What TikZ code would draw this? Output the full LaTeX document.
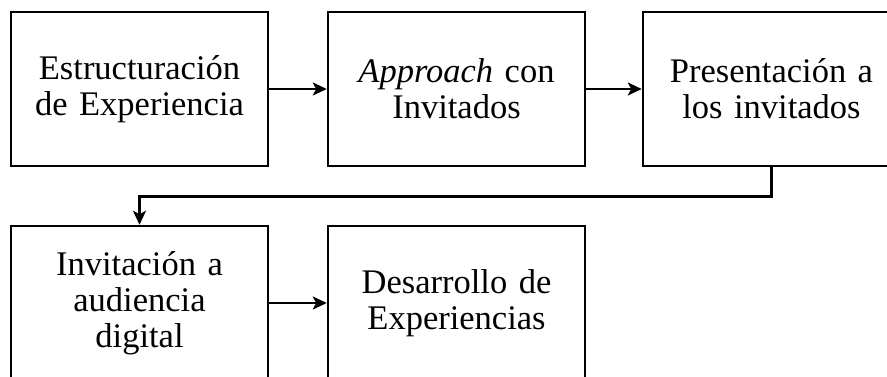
\documentclass[tikz,border=0pt]{standalone}
\usepackage{fontspec}
\setmainfont{Liberation Serif}
\usetikzlibrary{arrows.meta}
\tikzset{
  stepbox/.style={draw=black, line width=2.5pt, minimum width=257pt, minimum height=154pt,
    text width=250pt, align=center, inner sep=0pt, font=\fontsize{34.5}{36}\selectfont},
  arr/.style={draw=black, line width=2.2pt, -{Stealth[length=14pt,width=13pt,inset=3.5pt]}}
}
\begin{document}
\begin{tikzpicture}[x=1pt,y=-1pt]
\useasboundingbox (0,0) rectangle (887,376);
\clip (0,0) rectangle (887,376);
\node[stepbox] (b1) at (139.5,89) {Estructuración\\de Experiencia};
\node[stepbox] (b2) at (456.5,89) {\textit{Approach} con\\Invitados};
\node[stepbox] (b3) at (771.5,89) {Presentación a\\los invitados};
\node[stepbox] (b4) at (139.5,303) {Invitación a\\audiencia\\digital};
\node[stepbox] (b5) at (456.5,303) {Desarrollo de\\Experiencias};
\coordinate (m) at (455,196.5);
\draw[arr] (b1.east) -- (b2.west);
\draw[arr] (b2.east) -- (b3.west);
\draw[arr] (b3.south) |- (m) -| (b4.north);
\draw[arr] (b4.east) -- (b5.west);
\end{tikzpicture}
\end{document}
